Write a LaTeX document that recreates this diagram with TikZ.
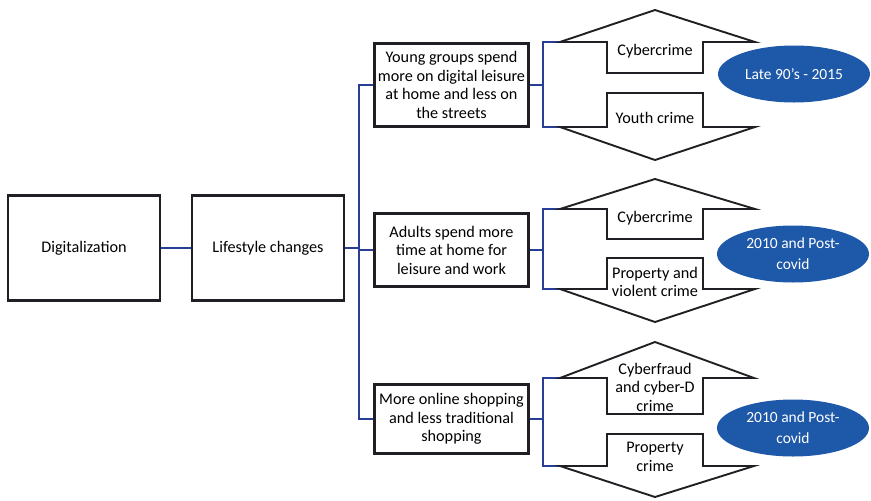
\documentclass[tikz,border=0pt]{standalone}
\usepackage{fontspec}
\setmainfont{Carlito}
\usetikzlibrary{positioning,shapes.geometric}
\definecolor{linkblue}{RGB}{40,62,150}
\definecolor{ovalblue}{RGB}{30,88,168}
\definecolor{edgegray}{RGB}{32,32,36}

\begin{document}
\begin{tikzpicture}[x=1pt,y=-1pt,
      every node/.style={font=\fontsize{16.2}{18.5}\selectfont,inner sep=1pt,align=center},
      box/.style={draw=edgegray,line width=2.1pt,minimum width=152pt},
      link/.style={linkblue,line width=1.8pt},
      hexa/.style={edgegray,line width=1.9pt,line join=miter},
      period/.style={ellipse,fill=ovalblue,text=white,minimum width=152pt,minimum height=57pt,
        font=\fontsize{15.5}{21}\selectfont}]
    \useasboundingbox (0,0) rectangle (871,501);

    % left column
    \node[box,minimum height=105pt] (digit) at (84,248) {Digitalization};
    \node[box,minimum height=105pt] (life) at (268,248) {Lifestyle changes};
    \draw[link] (digit) -- (life);

    % middle column
    \node[box,minimum width=154pt,minimum height=83pt] (young) at (451.5,85)
      {Young groups spend\\more on digital leisure\\at home and less on\\the streets};
    \node[box,minimum width=154pt,minimum height=73pt] (adult) at (451.5,250)
      {Adults spend more\\time at home for\\leisure and work};
    \node[box,minimum width=154pt,minimum height=69pt] (shop) at (451.5,419)
      {More online shopping\\and less traditional\\shopping};
    \coordinate (trunk) at (359,248);
    \draw[link] (life) -- (trunk);
    \draw[link] (young.west) -| (trunk) |- (shop.west);
    \draw[link] (adult.west) -- (adult.west -| trunk);

    % group 1
    \coordinate (g1) at (543,85);
    \coordinate (g1t) at (560,42);
    \coordinate (g1b) at (560,127);
    \draw[link] (young.east) -- (g1);
    \draw[link] (g1t) -| (g1) |- (g1b);
    \draw[hexa] (g1t) -- (655,10) -- (755,42) -- (703,42) -- (703,73) -- (607,73) -- (607,42) -- cycle;
    \draw[hexa] (g1b) -- (655,160) -- (755,127) -- (703,127) -- (703,93) -- (607,93) -- (607,127) -- cycle;
    \node (cyber1) at (655,51) {Cybercrime};
    \node (youth) at (655,118) {Youth crime};
    \node[period] (late) at (794,74) {Late 90’s - 2015};

    % group 2
    \coordinate (g2) at (543,250);
    \coordinate (g2t) at (560,209);
    \coordinate (g2b) at (560,289);
    \draw[link] (adult.east) -- (g2);
    \draw[link] (g2t) -| (g2) |- (g2b);
    \draw[hexa] (g2t) -- (655,179) -- (755,209) -- (703,209) -- (703,239) -- (607,239) -- (607,209) -- cycle;
    \draw[hexa] (g2b) -- (655,322) -- (755,289) -- (703,289) -- (703,258) -- (607,258) -- (607,289) -- cycle;
    \node (cyber2) at (655,218) {Cybercrime};
    \node (violent) at (655,282) {Property and\\violent crime};
    \node[period] (post1) at (793,254) {2010 and Post-\\covid};

    % group 3
    \coordinate (g3) at (543,419);
    \coordinate (g3t) at (560,378);
    \coordinate (g3b) at (560,466);
    \draw[link] (shop.east) -- (g3);
    \draw[link] (g3t) -| (g3) |- (g3b);
    \draw[hexa] (g3t) -- (655,342) -- (754,378) -- (703,378) -- (703,414) -- (607,414) -- (607,378) -- cycle;
    \draw[hexa] (g3b) -- (655,497) -- (754,466) -- (703,466) -- (703,434) -- (607,434) -- (607,466) -- cycle;
    \node (fraud) at (655,387) {Cyberfraud\\and cyber-D\\crime};
    \node (prop) at (655,457) {Property\\crime};
    \node[period] (post2) at (793,428) {2010 and Post-\\covid};
  \end{tikzpicture}
\end{document}
